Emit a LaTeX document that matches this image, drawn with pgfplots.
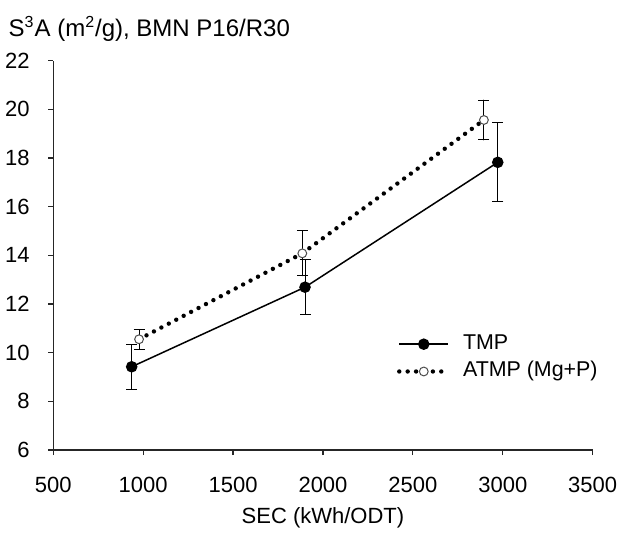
\documentclass[border=0pt]{standalone}
\usepackage{pgfplots}
\pgfplotsset{compat=1.18}
\usepackage{fontspec}
\setmainfont{Liberation Sans}
\begin{document}
\begin{tikzpicture}
\begin{axis}[
 name=ax, at={(0,0)}, anchor=south west,
 scale only axis, width=269.7pt, height=194.7pt,
 xmin=500, xmax=3500, ymin=6, ymax=22,
 axis lines=left, axis line style={-, line width=0.6pt, black!85},
 xtick={500,1000,...,3500}, ytick={6,8,...,22},
 tick align=outside, major tick length=2.5pt, tick style={line width=0.6pt, black!85},
 /pgf/number format/assume math mode=true,
 /pgf/number format/set thousands separator={},
 tick label style={font=\fontsize{11}{13}\selectfont},
 xticklabel style={anchor=base, yshift=-18.6pt, inner sep=0pt},
 yticklabel style={anchor=east, inner sep=0pt, xshift=-9.15pt},
 clip=false,
 legend cell align=left,
 legend image code/.code={\draw[mark repeat=2,mark phase=2,#1] plot coordinates {(0pt,0pt)(12.25pt,0pt)(24.5pt,0pt)};},
 legend style={draw=none, fill=none, at={(axis description cs:0.6366,0.2367)}, anchor=west,
   inner sep=0pt, row sep=3.35pt, column sep=6.3pt,
   font=\fontsize{10.7}{12}\selectfont,
   nodes={inner sep=0pt, text height=7.9pt, text depth=2.4pt}},
]
\addplot[black, line width=0.75pt, mark=*, mark size=2.5pt,
  error bars/.cd, y dir=both, y explicit,
  error bar style={line width=0.5pt, black},
  error mark options={rotate=90, mark size=2.75pt, line width=0.5pt, black}]
  coordinates {(936,9.42) +- (0,0.93) (1900,12.69) +- (0,1.14) (2972,17.82) +- (0,1.62)};
\addlegendentry{TMP}
\addplot[black, line width=2.2pt, line cap=round, dash pattern=on 0pt off 4.2pt,
  mark=*, mark size=2.2pt, mark options={solid, line width=0.5pt, fill=white, draw=black!70},
  error bars/.cd, y dir=both, y explicit,
  error bar style={line width=0.5pt, black, solid},
  error mark options={rotate=90, mark size=2.75pt, line width=0.5pt, black, solid}]
  coordinates {(977,10.55) +- (0,0.40) (1885,14.08) +- (0,0.92) (2895,19.56) +- (0,0.82)};
\addlegendentry{ATMP (Mg+P)}
\end{axis}
\node[anchor=base west, inner sep=0pt, font=\fontsize{12}{14}\selectfont] at ([shift={(-22.5pt,206.65pt)}]ax.south west)
  {S\textsuperscript{3}A (m\textsuperscript{2}/g), BMN P16/R30};
\node[anchor=base, inner sep=0pt, font=\fontsize{11}{13}\selectfont] at ([shift={(0pt,-36.5pt)}]ax.south)
  {SEC (kWh/ODT)};
\pgfresetboundingbox
\useasboundingbox ([shift={(-26.65pt,-41pt)}]ax.south west) rectangle ([shift={(284.35pt,225pt)}]ax.south west);
\end{tikzpicture}
\end{document}
